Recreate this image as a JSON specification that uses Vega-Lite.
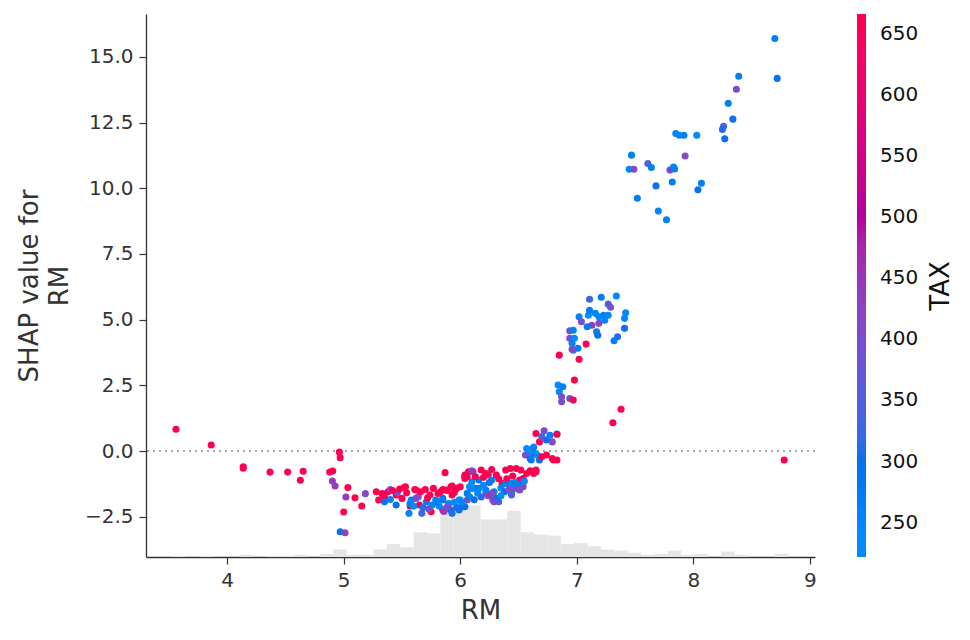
{
  "$schema": "https://vega.github.io/schema/vega-lite/v6.json",
  "autosize": {"type": "none"},
  "width": 669,
  "height": 543,
  "padding": {"left": 146, "top": 14, "right": 155, "bottom": 83},
  "background": "white",
  "datasets": {
    "hist": [
      {"x0": 3.5331, "x1": 3.6480, "count": 1},
      {"x0": 3.7628, "x1": 3.8776, "count": 1},
      {"x0": 4.1072, "x1": 4.2221, "count": 2},
      {"x0": 4.3369, "x1": 4.4517, "count": 1},
      {"x0": 4.4517, "x1": 4.5665, "count": 1},
      {"x0": 4.5665, "x1": 4.6813, "count": 2},
      {"x0": 4.7962, "x1": 4.9110, "count": 3},
      {"x0": 4.9110, "x1": 5.0258, "count": 7},
      {"x0": 5.0258, "x1": 5.1406, "count": 2},
      {"x0": 5.1406, "x1": 5.2554, "count": 2},
      {"x0": 5.2554, "x1": 5.3703, "count": 7},
      {"x0": 5.3703, "x1": 5.4851, "count": 12},
      {"x0": 5.4851, "x1": 5.5999, "count": 9},
      {"x0": 5.5999, "x1": 5.7147, "count": 23},
      {"x0": 5.7147, "x1": 5.8295, "count": 22},
      {"x0": 5.8295, "x1": 5.9444, "count": 48},
      {"x0": 5.9444, "x1": 6.0592, "count": 48},
      {"x0": 6.0592, "x1": 6.1740, "count": 48},
      {"x0": 6.1740, "x1": 6.2888, "count": 35},
      {"x0": 6.2888, "x1": 6.4036, "count": 35},
      {"x0": 6.4036, "x1": 6.5185, "count": 43},
      {"x0": 6.5185, "x1": 6.6333, "count": 23},
      {"x0": 6.6333, "x1": 6.7481, "count": 21},
      {"x0": 6.7481, "x1": 6.8629, "count": 20},
      {"x0": 6.8629, "x1": 6.9777, "count": 12},
      {"x0": 6.9777, "x1": 7.0926, "count": 13},
      {"x0": 7.0926, "x1": 7.2074, "count": 10},
      {"x0": 7.2074, "x1": 7.3222, "count": 7},
      {"x0": 7.3222, "x1": 7.4370, "count": 6},
      {"x0": 7.4370, "x1": 7.5518, "count": 4},
      {"x0": 7.5518, "x1": 7.6667, "count": 2},
      {"x0": 7.6667, "x1": 7.7815, "count": 3},
      {"x0": 7.7815, "x1": 7.8963, "count": 6},
      {"x0": 7.8963, "x1": 8.0111, "count": 2},
      {"x0": 8.0111, "x1": 8.1259, "count": 3},
      {"x0": 8.2408, "x1": 8.3556, "count": 5},
      {"x0": 8.3556, "x1": 8.4704, "count": 2},
      {"x0": 8.7000, "x1": 8.8149, "count": 3}
    ],
    "points": [
      {"RM": 3.561, "SHAP": 0.83, "TAX": 666},
      {"RM": 3.863, "SHAP": 0.23, "TAX": 666},
      {"RM": 4.138, "SHAP": -0.60, "TAX": 666},
      {"RM": 4.138, "SHAP": -0.65, "TAX": 666},
      {"RM": 4.368, "SHAP": -0.80, "TAX": 666},
      {"RM": 4.519, "SHAP": -0.80, "TAX": 666},
      {"RM": 4.652, "SHAP": -0.77, "TAX": 666},
      {"RM": 4.628, "SHAP": -1.11, "TAX": 666},
      {"RM": 4.880, "SHAP": -0.80, "TAX": 666},
      {"RM": 4.906, "SHAP": -0.76, "TAX": 666},
      {"RM": 4.963, "SHAP": -0.04, "TAX": 666},
      {"RM": 4.970, "SHAP": -0.25, "TAX": 666},
      {"RM": 4.903, "SHAP": -1.14, "TAX": 437},
      {"RM": 4.926, "SHAP": -1.33, "TAX": 437},
      {"RM": 5.036, "SHAP": -1.39, "TAX": 666},
      {"RM": 5.019, "SHAP": -1.75, "TAX": 437},
      {"RM": 5.097, "SHAP": -1.78, "TAX": 666},
      {"RM": 5.000, "SHAP": -2.32, "TAX": 666},
      {"RM": 5.155, "SHAP": -2.09, "TAX": 666},
      {"RM": 5.186, "SHAP": -1.62, "TAX": 411},
      {"RM": 4.970, "SHAP": -3.07, "TAX": 300},
      {"RM": 5.012, "SHAP": -3.11, "TAX": 430},
      {"RM": 5.28, "SHAP": -1.55, "TAX": 666},
      {"RM": 5.30, "SHAP": -1.86, "TAX": 666},
      {"RM": 5.35, "SHAP": -1.74, "TAX": 666},
      {"RM": 5.38, "SHAP": -1.55, "TAX": 666},
      {"RM": 5.40, "SHAP": -1.46, "TAX": 403},
      {"RM": 5.45, "SHAP": -1.67, "TAX": 666},
      {"RM": 5.46, "SHAP": -1.59, "TAX": 403},
      {"RM": 5.35, "SHAP": -1.93, "TAX": 296},
      {"RM": 5.40, "SHAP": -1.84, "TAX": 264},
      {"RM": 5.45, "SHAP": -2.05, "TAX": 300},
      {"RM": 5.52, "SHAP": -1.38, "TAX": 666},
      {"RM": 5.54, "SHAP": -1.59, "TAX": 666},
      {"RM": 5.57, "SHAP": -2.09, "TAX": 666},
      {"RM": 5.56, "SHAP": -2.37, "TAX": 254},
      {"RM": 5.58, "SHAP": -1.86, "TAX": 270},
      {"RM": 5.62, "SHAP": -1.80, "TAX": 403},
      {"RM": 5.61, "SHAP": -1.46, "TAX": 666},
      {"RM": 5.67, "SHAP": -2.37, "TAX": 330},
      {"RM": 5.70, "SHAP": -1.46, "TAX": 666},
      {"RM": 5.71, "SHAP": -1.93, "TAX": 277},
      {"RM": 5.74, "SHAP": -1.67, "TAX": 666},
      {"RM": 5.75, "SHAP": -2.31, "TAX": 666},
      {"RM": 5.79, "SHAP": -1.86, "TAX": 264},
      {"RM": 5.81, "SHAP": -1.61, "TAX": 666},
      {"RM": 5.85, "SHAP": -1.46, "TAX": 666},
      {"RM": 5.85, "SHAP": -1.80, "TAX": 300},
      {"RM": 5.87, "SHAP": -0.82, "TAX": 666},
      {"RM": 5.85, "SHAP": -2.24, "TAX": 666},
      {"RM": 5.88, "SHAP": -2.18, "TAX": 403},
      {"RM": 5.92, "SHAP": -2.24, "TAX": 300},
      {"RM": 5.93, "SHAP": -2.37, "TAX": 307},
      {"RM": 5.93, "SHAP": -1.33, "TAX": 666},
      {"RM": 5.97, "SHAP": -1.42, "TAX": 666},
      {"RM": 6.00, "SHAP": -1.86, "TAX": 270},
      {"RM": 6.06, "SHAP": -1.86, "TAX": 403},
      {"RM": 6.04, "SHAP": -0.98, "TAX": 666},
      {"RM": 6.07, "SHAP": -0.79, "TAX": 666},
      {"RM": 6.10, "SHAP": -0.75, "TAX": 403},
      {"RM": 6.10, "SHAP": -1.17, "TAX": 250},
      {"RM": 6.13, "SHAP": -1.42, "TAX": 277},
      {"RM": 5.53, "SHAP": -1.36, "TAX": 666},
      {"RM": 5.57, "SHAP": -1.99, "TAX": 264},
      {"RM": 5.62, "SHAP": -1.48, "TAX": 666},
      {"RM": 5.64, "SHAP": -1.74, "TAX": 398},
      {"RM": 5.83, "SHAP": -1.55, "TAX": 666},
      {"RM": 5.92, "SHAP": -1.36, "TAX": 666},
      {"RM": 5.93, "SHAP": -1.67, "TAX": 666},
      {"RM": 5.99, "SHAP": -1.86, "TAX": 224},
      {"RM": 6.00, "SHAP": -1.36, "TAX": 666},
      {"RM": 6.04, "SHAP": -1.04, "TAX": 666},
      {"RM": 6.06, "SHAP": -1.61, "TAX": 279},
      {"RM": 6.04, "SHAP": -2.12, "TAX": 300},
      {"RM": 5.99, "SHAP": -2.24, "TAX": 287},
      {"RM": 5.33, "SHAP": -1.62, "TAX": 666},
      {"RM": 5.42, "SHAP": -1.50, "TAX": 666},
      {"RM": 5.48, "SHAP": -1.44, "TAX": 666},
      {"RM": 5.66, "SHAP": -1.55, "TAX": 666},
      {"RM": 5.77, "SHAP": -1.42, "TAX": 666},
      {"RM": 5.89, "SHAP": -1.50, "TAX": 666},
      {"RM": 5.95, "SHAP": -1.58, "TAX": 666},
      {"RM": 5.72, "SHAP": -1.78, "TAX": 666},
      {"RM": 5.65, "SHAP": -2.05, "TAX": 666},
      {"RM": 5.50, "SHAP": -1.80, "TAX": 666},
      {"RM": 5.60, "SHAP": -2.10, "TAX": 224},
      {"RM": 5.68, "SHAP": -2.15, "TAX": 307},
      {"RM": 5.76, "SHAP": -2.05, "TAX": 254},
      {"RM": 5.82, "SHAP": -2.10, "TAX": 233},
      {"RM": 5.90, "SHAP": -2.00, "TAX": 243},
      {"RM": 5.95, "SHAP": -1.95, "TAX": 224},
      {"RM": 5.97, "SHAP": -2.15, "TAX": 304},
      {"RM": 5.80, "SHAP": -1.95, "TAX": 270},
      {"RM": 5.73, "SHAP": -2.20, "TAX": 398},
      {"RM": 5.86, "SHAP": -2.30, "TAX": 437},
      {"RM": 6.04, "SHAP": -0.91, "TAX": 666},
      {"RM": 6.11, "SHAP": -0.79, "TAX": 437},
      {"RM": 6.18, "SHAP": -0.72, "TAX": 666},
      {"RM": 6.22, "SHAP": -0.85, "TAX": 666},
      {"RM": 6.10, "SHAP": -1.42, "TAX": 224},
      {"RM": 6.16, "SHAP": -1.10, "TAX": 277},
      {"RM": 6.08, "SHAP": -1.74, "TAX": 264},
      {"RM": 6.02, "SHAP": -2.12, "TAX": 300},
      {"RM": 6.01, "SHAP": -1.95, "TAX": 233},
      {"RM": 6.22, "SHAP": -1.61, "TAX": 403},
      {"RM": 6.28, "SHAP": -1.86, "TAX": 384},
      {"RM": 6.29, "SHAP": -1.55, "TAX": 264},
      {"RM": 6.33, "SHAP": -1.93, "TAX": 352},
      {"RM": 6.31, "SHAP": -0.91, "TAX": 666},
      {"RM": 6.36, "SHAP": -1.23, "TAX": 666},
      {"RM": 6.39, "SHAP": -0.72, "TAX": 666},
      {"RM": 6.42, "SHAP": -1.23, "TAX": 270},
      {"RM": 6.44, "SHAP": -1.61, "TAX": 300},
      {"RM": 6.48, "SHAP": -0.66, "TAX": 666},
      {"RM": 6.51, "SHAP": -1.10, "TAX": 666},
      {"RM": 6.52, "SHAP": -0.72, "TAX": 666},
      {"RM": 6.49, "SHAP": -1.42, "TAX": 233},
      {"RM": 6.53, "SHAP": -1.29, "TAX": 307},
      {"RM": 6.46, "SHAP": -1.42, "TAX": 398},
      {"RM": 6.64, "SHAP": -0.79, "TAX": 666},
      {"RM": 6.65, "SHAP": -0.72, "TAX": 666},
      {"RM": 6.61, "SHAP": -0.34, "TAX": 254},
      {"RM": 6.68, "SHAP": -0.34, "TAX": 300},
      {"RM": 6.80, "SHAP": -0.34, "TAX": 666},
      {"RM": 6.43, "SHAP": -0.66, "TAX": 666},
      {"RM": 6.54, "SHAP": -1.04, "TAX": 666},
      {"RM": 6.39, "SHAP": -1.23, "TAX": 264},
      {"RM": 6.44, "SHAP": -1.23, "TAX": 224},
      {"RM": 6.50, "SHAP": -1.29, "TAX": 270},
      {"RM": 6.54, "SHAP": -1.36, "TAX": 403},
      {"RM": 6.51, "SHAP": -1.48, "TAX": 411},
      {"RM": 6.44, "SHAP": -1.67, "TAX": 345},
      {"RM": 6.06, "SHAP": -0.98, "TAX": 666},
      {"RM": 6.13, "SHAP": -0.98, "TAX": 666},
      {"RM": 6.24, "SHAP": -0.91, "TAX": 666},
      {"RM": 6.27, "SHAP": -1.10, "TAX": 254},
      {"RM": 6.08, "SHAP": -1.36, "TAX": 233},
      {"RM": 6.16, "SHAP": -1.42, "TAX": 270},
      {"RM": 6.22, "SHAP": -1.48, "TAX": 264},
      {"RM": 6.27, "SHAP": -1.61, "TAX": 403},
      {"RM": 6.31, "SHAP": -1.80, "TAX": 296},
      {"RM": 6.29, "SHAP": -1.93, "TAX": 403},
      {"RM": 5.88, "SHAP": -1.48, "TAX": 666},
      {"RM": 5.85, "SHAP": -1.86, "TAX": 264},
      {"RM": 5.89, "SHAP": -2.12, "TAX": 403},
      {"RM": 6.20, "SHAP": -1.30, "TAX": 224},
      {"RM": 6.25, "SHAP": -1.20, "TAX": 296},
      {"RM": 6.35, "SHAP": -1.40, "TAX": 264},
      {"RM": 6.38, "SHAP": -1.55, "TAX": 300},
      {"RM": 6.40, "SHAP": -1.05, "TAX": 666},
      {"RM": 6.45, "SHAP": -0.95, "TAX": 666},
      {"RM": 6.33, "SHAP": -1.05, "TAX": 666},
      {"RM": 6.27, "SHAP": -0.70, "TAX": 666},
      {"RM": 6.20, "SHAP": -1.00, "TAX": 666},
      {"RM": 6.15, "SHAP": -1.60, "TAX": 233},
      {"RM": 6.12, "SHAP": -1.85, "TAX": 300},
      {"RM": 6.18, "SHAP": -1.75, "TAX": 307},
      {"RM": 6.24, "SHAP": -1.70, "TAX": 437},
      {"RM": 6.35, "SHAP": -1.70, "TAX": 224},
      {"RM": 6.42, "SHAP": -1.45, "TAX": 403},
      {"RM": 6.47, "SHAP": -1.20, "TAX": 264},
      {"RM": 6.55, "SHAP": -1.15, "TAX": 243},
      {"RM": 6.57, "SHAP": -0.85, "TAX": 666},
      {"RM": 6.60, "SHAP": -0.75, "TAX": 666},
      {"RM": 6.57, "SHAP": 0.10, "TAX": 224},
      {"RM": 6.61, "SHAP": -0.03, "TAX": 264},
      {"RM": 6.64, "SHAP": -0.09, "TAX": 270},
      {"RM": 6.56, "SHAP": -0.15, "TAX": 398},
      {"RM": 6.60, "SHAP": -0.28, "TAX": 300},
      {"RM": 6.59, "SHAP": 0.05, "TAX": 233},
      {"RM": 6.63, "SHAP": 0.15, "TAX": 254},
      {"RM": 6.66, "SHAP": -0.15, "TAX": 224},
      {"RM": 6.70, "SHAP": -0.22, "TAX": 666},
      {"RM": 6.74, "SHAP": -0.15, "TAX": 666},
      {"RM": 6.79, "SHAP": -0.28, "TAX": 666},
      {"RM": 6.83, "SHAP": -0.34, "TAX": 666},
      {"RM": 6.65, "SHAP": 0.67, "TAX": 666},
      {"RM": 6.72, "SHAP": 0.77, "TAX": 403},
      {"RM": 6.68, "SHAP": 0.35, "TAX": 666},
      {"RM": 6.74, "SHAP": 0.42, "TAX": 300},
      {"RM": 6.79, "SHAP": 0.35, "TAX": 403},
      {"RM": 6.83, "SHAP": 0.65, "TAX": 254},
      {"RM": 6.83, "SHAP": 0.64, "TAX": 666},
      {"RM": 6.65, "SHAP": -0.79, "TAX": 666},
      {"RM": 6.63, "SHAP": -0.85, "TAX": 666},
      {"RM": 6.70, "SHAP": 0.55, "TAX": 330},
      {"RM": 6.77, "SHAP": 0.60, "TAX": 270},
      {"RM": 7.11, "SHAP": 5.78, "TAX": 330},
      {"RM": 7.21, "SHAP": 5.85, "TAX": 264},
      {"RM": 7.34, "SHAP": 5.90, "TAX": 224},
      {"RM": 7.27, "SHAP": 5.59, "TAX": 350},
      {"RM": 7.29, "SHAP": 5.47, "TAX": 384},
      {"RM": 7.02, "SHAP": 5.11, "TAX": 264},
      {"RM": 7.10, "SHAP": 5.17, "TAX": 224},
      {"RM": 7.11, "SHAP": 5.36, "TAX": 270},
      {"RM": 7.16, "SHAP": 5.24, "TAX": 254},
      {"RM": 7.19, "SHAP": 5.11, "TAX": 233},
      {"RM": 7.23, "SHAP": 5.17, "TAX": 264},
      {"RM": 7.27, "SHAP": 5.17, "TAX": 224},
      {"RM": 7.24, "SHAP": 4.98, "TAX": 243},
      {"RM": 7.42, "SHAP": 5.26, "TAX": 224},
      {"RM": 7.41, "SHAP": 5.05, "TAX": 254},
      {"RM": 7.04, "SHAP": 4.92, "TAX": 403},
      {"RM": 7.13, "SHAP": 4.79, "TAX": 437},
      {"RM": 7.19, "SHAP": 4.86, "TAX": 403},
      {"RM": 7.09, "SHAP": 4.73, "TAX": 270},
      {"RM": 7.17, "SHAP": 4.54, "TAX": 264},
      {"RM": 7.18, "SHAP": 4.41, "TAX": 296},
      {"RM": 7.41, "SHAP": 4.67, "TAX": 300},
      {"RM": 7.35, "SHAP": 4.35, "TAX": 307},
      {"RM": 7.32, "SHAP": 4.20, "TAX": 264},
      {"RM": 6.94, "SHAP": 4.58, "TAX": 403},
      {"RM": 6.97, "SHAP": 4.60, "TAX": 264},
      {"RM": 6.94, "SHAP": 4.29, "TAX": 411},
      {"RM": 6.98, "SHAP": 4.29, "TAX": 224},
      {"RM": 6.96, "SHAP": 4.10, "TAX": 254},
      {"RM": 7.01, "SHAP": 3.91, "TAX": 270},
      {"RM": 6.97, "SHAP": 3.84, "TAX": 233},
      {"RM": 6.96, "SHAP": 3.87, "TAX": 403},
      {"RM": 7.08, "SHAP": 4.07, "TAX": 666},
      {"RM": 6.85, "SHAP": 3.65, "TAX": 666},
      {"RM": 7.02, "SHAP": 3.49, "TAX": 666},
      {"RM": 6.84, "SHAP": 2.51, "TAX": 224},
      {"RM": 6.88, "SHAP": 2.45, "TAX": 264},
      {"RM": 6.85, "SHAP": 2.26, "TAX": 254},
      {"RM": 6.87, "SHAP": 2.07, "TAX": 403},
      {"RM": 6.87, "SHAP": 1.88, "TAX": 403},
      {"RM": 6.94, "SHAP": 2.00, "TAX": 350},
      {"RM": 6.97, "SHAP": 1.94, "TAX": 666},
      {"RM": 6.98, "SHAP": 2.70, "TAX": 666},
      {"RM": 7.38, "SHAP": 1.59, "TAX": 666},
      {"RM": 7.31, "SHAP": 1.08, "TAX": 666},
      {"RM": 8.70, "SHAP": 15.70, "TAX": 264},
      {"RM": 8.72, "SHAP": 14.18, "TAX": 300},
      {"RM": 8.39, "SHAP": 14.26, "TAX": 264},
      {"RM": 8.37, "SHAP": 13.77, "TAX": 411},
      {"RM": 8.30, "SHAP": 13.23, "TAX": 264},
      {"RM": 8.34, "SHAP": 12.63, "TAX": 300},
      {"RM": 8.26, "SHAP": 12.36, "TAX": 350},
      {"RM": 8.25, "SHAP": 12.24, "TAX": 307},
      {"RM": 8.27, "SHAP": 11.88, "TAX": 300},
      {"RM": 7.85, "SHAP": 12.08, "TAX": 243},
      {"RM": 7.88, "SHAP": 12.02, "TAX": 254},
      {"RM": 7.92, "SHAP": 12.02, "TAX": 264},
      {"RM": 8.03, "SHAP": 12.02, "TAX": 224},
      {"RM": 7.47, "SHAP": 11.26, "TAX": 264},
      {"RM": 7.93, "SHAP": 11.23, "TAX": 411},
      {"RM": 7.45, "SHAP": 10.72, "TAX": 233},
      {"RM": 7.49, "SHAP": 10.72, "TAX": 411},
      {"RM": 7.61, "SHAP": 10.94, "TAX": 350},
      {"RM": 7.64, "SHAP": 10.79, "TAX": 264},
      {"RM": 7.80, "SHAP": 10.69, "TAX": 430},
      {"RM": 7.83, "SHAP": 10.81, "TAX": 254},
      {"RM": 7.84, "SHAP": 10.73, "TAX": 264},
      {"RM": 7.68, "SHAP": 10.09, "TAX": 300},
      {"RM": 7.82, "SHAP": 10.24, "TAX": 270},
      {"RM": 8.07, "SHAP": 10.19, "TAX": 264},
      {"RM": 8.04, "SHAP": 9.94, "TAX": 300},
      {"RM": 7.52, "SHAP": 9.62, "TAX": 264},
      {"RM": 7.70, "SHAP": 9.13, "TAX": 254},
      {"RM": 7.77, "SHAP": 8.80, "TAX": 264},
      {"RM": 8.78, "SHAP": -0.34, "TAX": 666}
    ]
  },
  "layer": [
    {
      "data": {"name": "hist"},
      "mark": {"type": "bar", "color": "#e5e5e5"},
      "encoding": {
        "x": {"field": "x0", "type": "quantitative", "scale": {"domain": [3.3035, 9.0445], "nice": false, "zero": false}},
        "x2": {"field": "x1"},
        "y": {"field": "count", "type": "quantitative", "title": "TAX", "scale": {"domain": [0, 506], "nice": false},
          "axis": {"orient": "right", "labels": false, "ticks": false, "domain": false, "grid": false,
            "titleAngle": 270, "titleBaseline": "middle", "titleAnchor": "middle", "titlePadding": 125,
            "titleFontSize": 26, "titleColor": "#111111"}},
        "y2": {"datum": 0}
      }
    },
    {
      "data": {"name": "points"},
      "layer": [
        {
          "mark": {"type": "rule", "color": "#aaaaaa", "strokeWidth": 1, "strokeDash": [2, 4]},
          "encoding": {"y": {"datum": 0, "type": "quantitative"}}
        },
        {
          "mark": {"type": "circle", "size": 50, "opacity": 1},
          "encoding": {
            "x": {"field": "RM", "type": "quantitative", "title": "RM",
              "scale": {"domain": [3.3035, 9.0445], "nice": false, "zero": false},
              "axis": {"values": [4, 5, 6, 7, 8, 9], "format": "d", "labelPadding": 6, "titlePadding": 7}},
            "y": {"field": "SHAP", "type": "quantitative", "title": ["SHAP value for", "RM"],
              "scale": {"domain": [-4.03, 16.63], "nice": false, "zero": false},
              "axis": {"orient": "left", "values": [-2.5, 0, 2.5, 5, 7.5, 10, 12.5, 15], "format": ".1f", "labelPadding": 6, "titlePadding": 12, "titleLineHeight": 30}},
            "color": {"field": "TAX", "type": "quantitative",
              "scale": {"domain": [222, 250, 300, 350, 400, 450, 500, 550, 600, 666],
                "range": ["#008bfc", "#0089f8", "#0a70ec", "#5160dc", "#7b4dcc", "#9a36b7", "#b3009e", "#d1008a", "#eb0073", "#ff0051"],
                "clamp": true},
              "legend": {"title": null, "orient": "none", "legendX": 711, "legendY": 0, "direction": "vertical",
                "gradientLength": 543, "gradientThickness": 9, "gradientStrokeWidth": 0,
                "values": [250, 300, 350, 400, 450, 500, 550, 600, 650],
                "labelFontSize": 20, "labelFont": "DejaVu Sans", "labelColor": "#111", "labelOffset": 14}
            }
          }
        }
      ]
    }
  ],
  "resolve": {"scale": {"y": "independent"}},
  "config": {
    "view": {"stroke": null},
    "axis": {
      "grid": false, "domainColor": "#333333", "domainWidth": 1.3, "tickColor": "#333333", "tickWidth": 1.2, "tickSize": 7,
      "labelColor": "#333333", "labelFont": "DejaVu Sans", "labelFontSize": 20,
      "titleColor": "#333333", "titleFont": "DejaVu Sans", "titleFontSize": 26, "titleFontWeight": "normal"
    }
  }
}
